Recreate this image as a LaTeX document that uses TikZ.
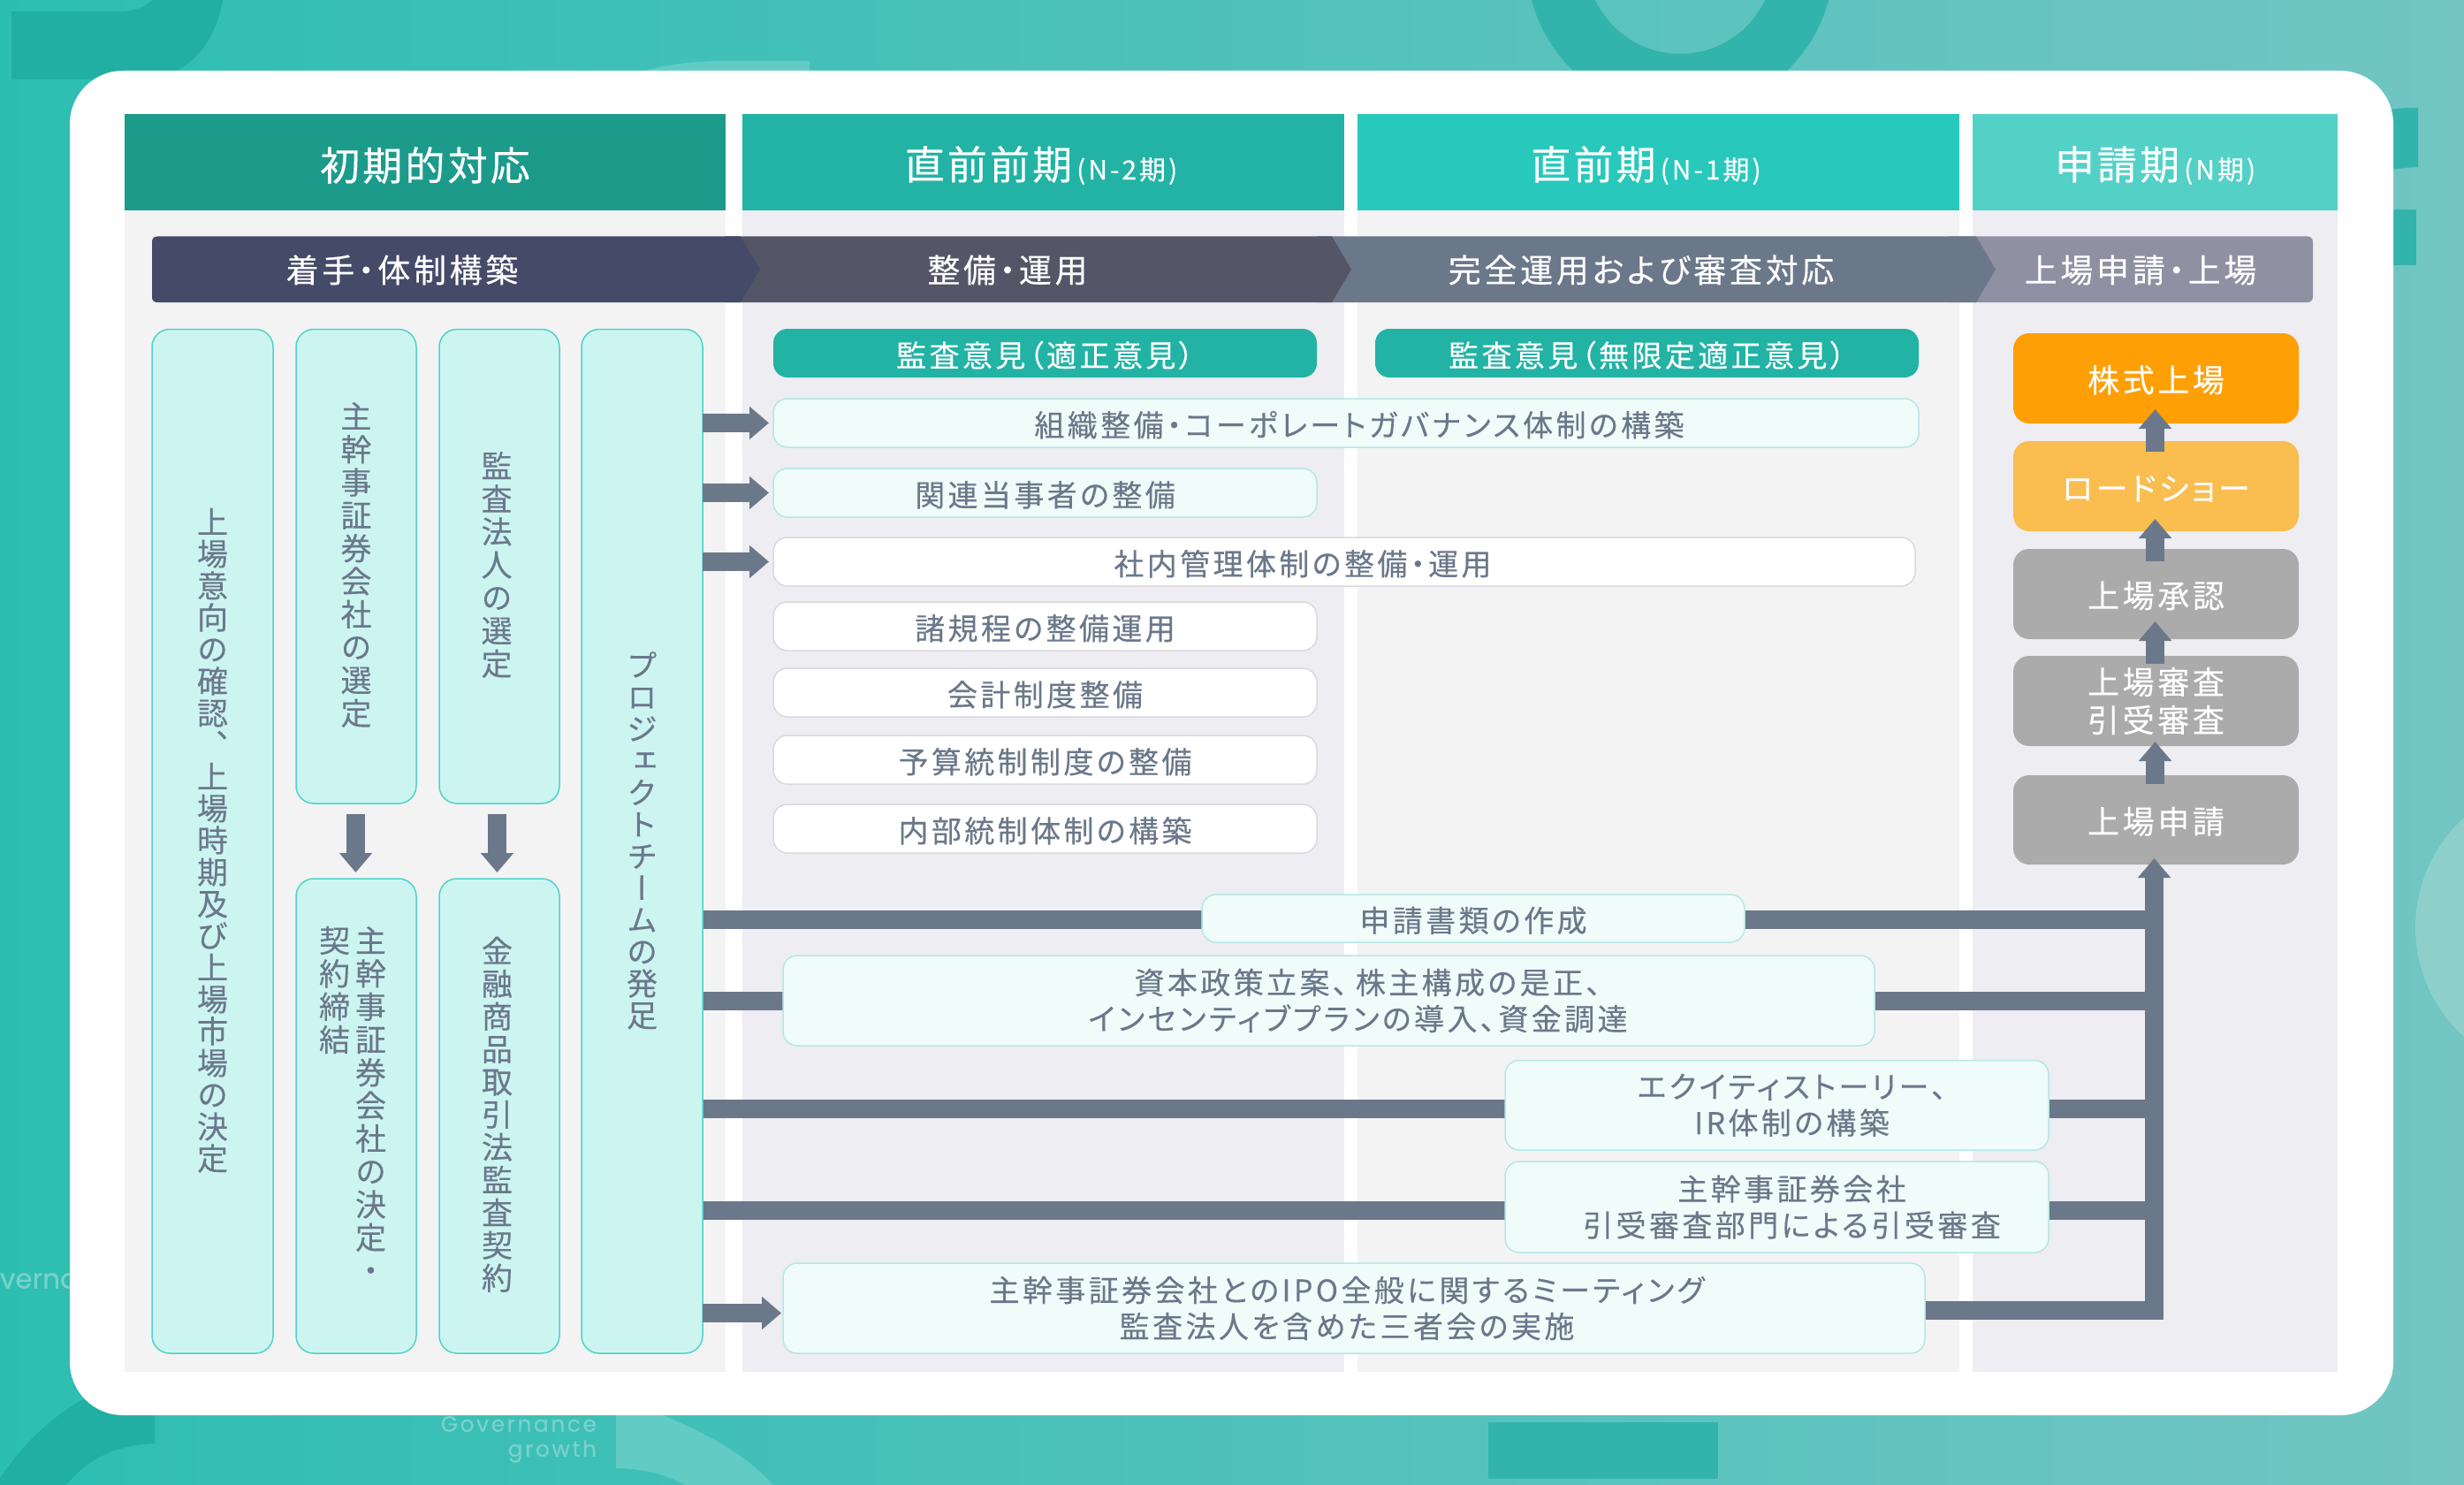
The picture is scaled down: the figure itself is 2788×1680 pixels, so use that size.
\documentclass[tikz,border=0pt]{standalone}
\usepackage{fontspec}
\usetikzlibrary{arrows.meta,calc}
\newfontfamily\jp{Noto Sans CJK JP}[RawFeature={+palt},LetterSpace=10,FakeBold=0.25]
\newfontfamily\jph{Noto Sans CJK JP}[RawFeature={+palt},LetterSpace=7,FakeBold=0.25]
\newfontfamily\jpv{Noto Sans CJK JP}[RawFeature={+vert},FakeBold=0.25]
\newfontfamily\pop{Poppins}[LetterSpace=10,FakeBold=0.5]
\newfontfamily\popn{Poppins}[FakeBold=0.5]
\definecolor{cbgA}{HTML}{2DBEB2}\definecolor{cbgB}{HTML}{52C3BC}\definecolor{cbgC}{HTML}{72C5C3}
\definecolor{cdark}{HTML}{20AFA2}\definecolor{cring}{HTML}{32B4AC}\definecolor{cglow}{HTML}{62CBC4}
\definecolor{ccirc}{HTML}{8DD0CB}
\definecolor{cHa}{HTML}{1C9B8B}\definecolor{cHb}{HTML}{22B3A5}\definecolor{cHc}{HTML}{28C9BC}\definecolor{cHd}{HTML}{53D1C7}
\definecolor{cPa}{HTML}{F3F3F4}\definecolor{cPb}{HTML}{EDEDF2}
\definecolor{cBa}{HTML}{454A68}\definecolor{cBb}{HTML}{545566}\definecolor{cBc}{HTML}{6B788A}\definecolor{cBd}{HTML}{9090A3}
\definecolor{ctxt}{HTML}{6B788A}
\definecolor{cvf}{HTML}{CCF5F1}\definecolor{cvd}{HTML}{4FD3C8}
\definecolor{clf}{HTML}{EFFCF9}\definecolor{cld}{HTML}{B5E8E4}\definecolor{cwd}{HTML}{D9D9DF}
\definecolor{corg}{HTML}{FE9F06}\definecolor{cyel}{HTML}{F9BD50}\definecolor{cgry}{HTML}{ABABAB}
\definecolor{cword}{HTML}{7AD2CB}
\pgfdeclarelayer{backl}\pgfdeclarelayer{connl}\pgfdeclarelayer{topl}
\pgfsetlayers{backl,connl,main,topl}
\makeatletter
\newcommand\vst[2][7]{\vtop{\offinterlineskip\@tfor\vch:=#2\do{\hbox to 35pt{\hss\vrule height 30pt depth #1pt width 0pt\relax\vch\hss}}}}
\makeatother
\newcommand\bx[7]{%
 \pgfmathsetmacro\cxx{(#3+#5)/2}\pgfmathsetmacro\cyy{(#4+#6)/2}%
 \pgfmathsetmacro\ww{#5-#3}\pgfmathsetmacro\hh{#6-#4}%
 \node[#1,minimum width=\ww pt,minimum height=\hh pt] (#2) at (\cxx,\cyy) {#7};}
\tikzset{
 base/.style={inner sep=0pt,outer sep=0pt,align=center,rectangle},
 lift/.style={execute at begin node={\rule{0pt}{#1em}}},
 vbox/.style={base,draw=cvd,line width=1.5pt,fill=cvf,rounded corners=20pt,text=ctxt,font=\jpv\fontsize{35}{37}\selectfont},
 lbox/.style={base,lift=0.98,draw=cld,line width=1.5pt,fill=clf,rounded corners=16pt,text=ctxt,font=\jp\fontsize{34}{41}\selectfont},
 wbox/.style={base,lift=0.98,draw=cwd,line width=1.5pt,fill=white,rounded corners=16pt,text=ctxt,font=\jp\fontsize{34}{41}\selectfont},
 tagbox/.style={base,lift=1.0,fill=cHb,rounded corners=16pt,text=white,font=\jp\fontsize{34}{41}\selectfont},
 stepbox/.style={base,lift=0.94,rounded corners=18pt,text=white,font=\jp\fontsize{36}{43}\selectfont},
 headbox/.style={base,lift=1.0,text=white,font=\jph\fontsize{45}{52}\selectfont},
 bandtxt/.style={base,lift=0.92,text=white,font=\jp\fontsize{37}{44}\selectfont},
 conn/.style={draw=cBc,line width=21pt},
 arr/.style={conn,-{Triangle[length=22pt,width=36pt]}},
}
\newcommand\smallhead[1]{{\jp\fontsize{30}{30}\selectfont\,#1}}
\begin{document}
\begin{tikzpicture}[x=1pt,y=-1pt]
\useasboundingbox (0,0) rectangle (2788,1680);
% ---------- background decoration
\begin{pgfonlayer}{backl}
\begin{scope}
\clip (0,0) rectangle (2788,1680);
\shade[left color=cbgA,middle color=cbgB,right color=cbgC] (0,0) rectangle (2788,1680);
% top left
\fill[cdark] (13,13) -- (135,13) .. controls (150,13) and (165,8) .. (172,0) -- (252,0)
  .. controls (245,40) and (225,70) .. (190,85) -- (190,90) -- (13,90) -- cycle;
% top centre ring
\fill[cring,even odd rule] (1901,-45) circle[radius=174] (1901,-45) circle[radius=106];
% top glow
\fill[cglow] (730,80) .. controls (760,72) and (790,69) .. (815,69) -- (916,69) -- (916,80) -- cycle;
% right bars
\fill[cring] (2700,125) .. controls (2712,122) and (2725,122) .. (2736,122) -- (2736,189)
  .. controls (2725,189) and (2712,191) .. (2700,193) -- cycle;
\fill[cring] (2700,237) rectangle (2734,300);
% right circle
\fill[ccirc] (2900,1049) circle[radius=167];
% bottom centre block
\fill[cring] (1684,1609) rectangle (1944,1673);
% bottom left
\fill[cdark] (0,1672) .. controls (25,1635) and (60,1600) .. (100,1580) -- (175,1580) -- (175,1633)
  .. controls (130,1635) and (100,1650) .. (75,1680) -- (0,1680) -- cycle;
% bottom centre glow
\fill[cglow] (697,1595) -- (735,1595) .. controls (800,1620) and (850,1650) .. (874,1680) -- (775,1680)
  .. controls (755,1668) and (725,1661) .. (697,1661) -- cycle;
% words
\node[base,anchor=east,text=cword,font=\pop\fontsize{25}{25}\selectfont] (wgov) at (675,1611) {Governance};
\node[base,anchor=east,text=cword,font=\pop\fontsize{25}{25}\selectfont] (wgro) at (675,1642) {growth};
\node[base,anchor=west,text=cword,font=\popn\fontsize{31}{31}\selectfont] (wver) at (0,1449) {verna};
\end{scope}
% card
\fill[white,rounded corners=60pt] (79,80) rectangle (2708,1601);
% panels
\fill[cPa] (141,238) rectangle (821,1552);
\fill[cPb] (840,238) rectangle (1521,1552);
\fill[cPa] (1536,238) rectangle (2217,1552);
\fill[cPb] (2232,238) rectangle (2645,1552);
% chevron band
\fill[cBd,rounded corners=6pt] (2200,267.5) -- (2617,267.5) -- (2617,342) -- (2200,342) -- cycle;
\fill[cBc] (1490,267.5) -- (2236,267.5) -- (2258,304.7) -- (2236,342) -- (1490,342) -- cycle;
\fill[cBb] (820,267.5) -- (1507,267.5) -- (1529,304.7) -- (1507,342) -- (820,342) -- cycle;
\fill[cBa] (178,267.5) -- (838,267.5) -- (860,304.7) -- (838,342) -- (178,342)
  .. controls (174,342) and (172,340) .. (172,336) -- (172,274) .. controls (172,270) and (174,267.5) .. (178,267.5) -- cycle;
\end{pgfonlayer}
% ---------- headers
\bx{headbox,fill=cHa}{h1}{141}{129}{821}{238}{初期的対応}
\bx{headbox,fill=cHb}{h2}{840}{129}{1521}{238}{直前前期\smallhead{(N-2期)}\hspace*{5pt}}
\bx{headbox,fill=cHc}{h3}{1536}{129}{2217}{238}{直前期\smallhead{(N-1期)}\hspace*{28pt}}
\bx{headbox,fill=cHd}{h4}{2232}{129}{2645}{238}{申請期\smallhead{(N期)}}
% ---------- band texts
\node[bandtxt] (b1) at (455,304) {着手・体制構築};
\node[bandtxt] (b2) at (1140,304) {整備・運用};
\node[bandtxt] (b3) at (1857,304) {完全運用および審査対応};
\node[bandtxt] (b4) at (2422,304) {上場申請・上場};
% ---------- vertical boxes
\bx{vbox}{v1}{172}{372.5}{309}{1531}{\vst[6]{上場意向の確認、上場時期及び上場市場の決定}}
\bx{vbox}{v2}{335}{372.5}{471}{909}{\vst[7.3]{主幹事証券会社の選定}}
\bx{vbox}{v3}{497}{372.5}{633}{909}{\hbox{\vst[7.3]{監査法人の選定}\kern6pt}}
\bx{vbox}{v4}{335}{994}{471}{1531}{\hbox{\vtop{\hbox{\vst[7.3]{契約締結}\kern6pt\vst[7.3]{主幹事証券会社の決定・}}\vskip20pt}\kern8pt}}
\bx{vbox}{v5}{497}{994}{633}{1531}{\hbox{\vst{金融商品取引法監査契約}\kern5pt}}
\bx{vbox}{pj}{658}{372.5}{795}{1531}{\vst[6]{プロジェクトチームの発足}}
% ---------- green tags
\bx{tagbox}{t1}{875}{372}{1490}{427}{監査意見（適正意見）}
\bx{tagbox}{t2}{1556}{372}{2171}{427}{監査意見（無限定適正意見）}
% ---------- rows
\bx{lbox}{r1}{875}{451}{2171}{506}{\hspace*{30pt}組織整備・コーポレートガバナンス体制の構築}
\bx{lbox}{r2}{875}{530}{1490}{585}{関連当事者の整備}
\bx{wbox}{r3}{875}{608}{2167}{663}{社内管理体制の整備・運用\hspace*{94pt}}
\bx{wbox}{r4}{875}{681}{1490}{736}{諸規程の整備運用}
\bx{wbox}{r5}{875}{756}{1490}{811}{会計制度整備}
\bx{wbox}{r6}{875}{832}{1490}{887}{予算統制制度の整備}
\bx{wbox}{r7}{875}{910}{1490}{965}{内部統制体制の構築}
% ---------- long rows
\bx{lbox}{n1}{1360}{1012}{1974}{1066}{申請書類の作成}
\bx{lbox}{n2}{886}{1081}{2121}{1183}{\hspace*{88pt}資本政策立案、\kern9pt株主構成の是正、\\\hspace*{66pt}インセンティブプランの導入、資金調達}
\bx{lbox}{n3}{1703}{1199.5}{2318}{1301}{\hspace*{34pt}エクイティストーリー、\\\hspace*{34pt}IR体制の構築}
\bx{lbox}{n4}{1703}{1314}{2318}{1417}{\hspace*{34pt}主幹事証券会社\\\hspace*{34pt}引受審査部門による引受審査}
\bx{lbox}{n5}{886}{1429}{2178}{1531}{主幹事証券会社とのIPO全般に関するミーティング\hspace*{16pt}\\監査法人を含めた三者会の実施\hspace*{16pt}}
% ---------- right column
\bx{stepbox,fill=corg}{s1}{2278}{377}{2601}{479}{株式上場}
\bx{stepbox,fill=cyel}{s2}{2278}{499}{2601}{601}{ロードショー}
\bx{stepbox,fill=cgry}{s3}{2278}{621}{2601}{723}{上場承認}
\bx{stepbox,fill=cgry}{s4}{2278}{742}{2601}{844}{上場審査\\引受審査}
\bx{stepbox,fill=cgry}{s5}{2278}{877}{2601}{978}{上場申請}
% ---------- connector points
\coordinate (j1) at (2437.5,1040);
\coordinate (j2) at (2437.5,1132.5);
\coordinate (j3) at (2437.5,1254.5);
\coordinate (j4) at (2437.5,1369);
\coordinate (j5) at (2437.5,1482);
\coordinate (jb) at (2437.5,1492.5);
\coordinate (a5) at (880,1485.5);
\begin{pgfonlayer}{connl}
\draw[conn] (pj.east |- j1) -- (j1);
\draw[conn] (pj.east |- j2) -- (j2);
\draw[conn] (pj.east |- j3) -- (j3);
\draw[conn] (pj.east |- j4) -- (j4);
\draw[conn] (n5.east |- j5) -- (j5);
\end{pgfonlayer}
\begin{pgfonlayer}{topl}
\draw[arr,shorten >=5pt] (pj.east |- r1.west) -- (r1.west);
\draw[arr,shorten >=5pt] (pj.east |- r2.west) -- (r2.west);
\draw[arr,shorten >=5pt] (pj.east |- r3.west) -- (r3.west);
\draw[arr,shorten >=2pt] (pj.east |- a5) -- (n5.west |- a5);
\draw[arr] ([xshift=-0.5pt,yshift=-12pt]v2.south) -- ([xshift=-0.5pt,yshift=7pt]v4.north);
\draw[arr] ([xshift=-2.5pt,yshift=-12pt]v3.south) -- ([xshift=-2.5pt,yshift=7pt]v5.north);
\draw[arr] ([xshift=-1pt,yshift=-12pt]s2.north) -- ([xshift=-1pt,yshift=16pt]s1.south);
\draw[arr] ([xshift=-1pt,yshift=-14pt]s3.north) -- ([xshift=-1pt,yshift=14pt]s2.south);
\draw[arr] ([xshift=-1pt,yshift=-9pt]s4.north) -- ([xshift=-1pt,yshift=20pt]s3.south);
\draw[arr] ([xshift=-1pt,yshift=-10pt]s5.north) -- ([xshift=-1pt,yshift=5pt]s4.south);
\draw[conn,-{Triangle[length=22pt,width=36pt]}] (jb) -- ([yshift=7pt]s5.south -| jb);
\end{pgfonlayer}
\end{tikzpicture}
\end{document}
